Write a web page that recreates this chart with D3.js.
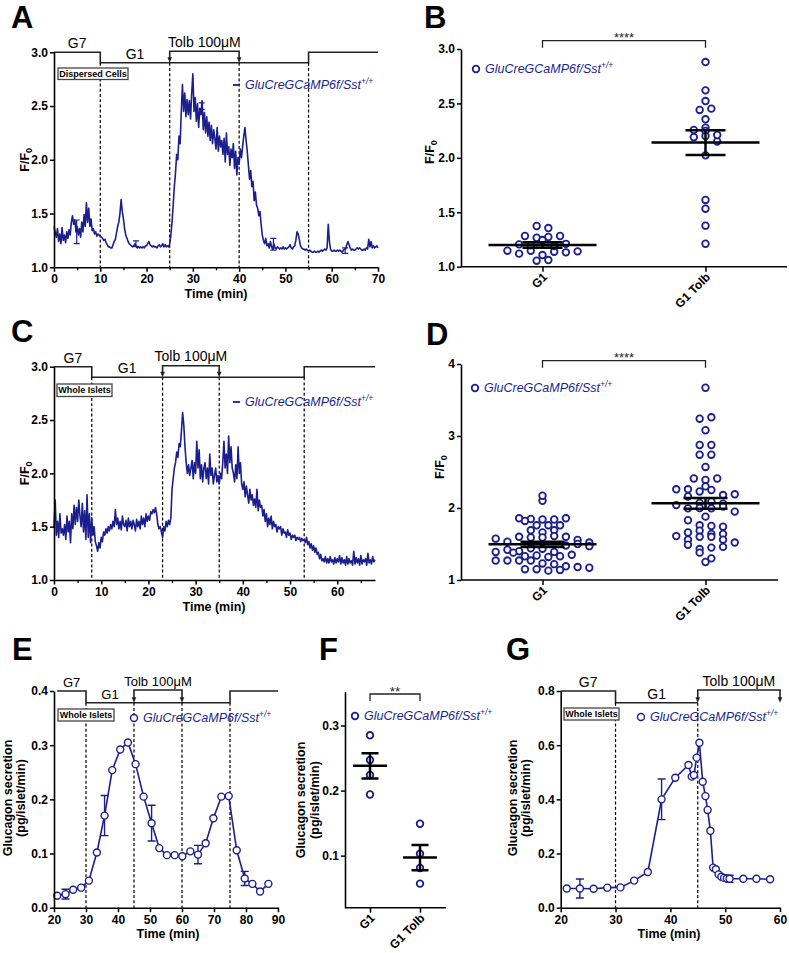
<!DOCTYPE html>
<html><head><meta charset="utf-8">
<script src="https://cdn.jsdelivr.net/npm/d3@7"></script>
<style>
body{margin:0;background:#fff}
text{font-family:Arial,"Liberation Sans",Helvetica,sans-serif}
</style></head><body>
<svg id="fig" width="789" height="953"></svg>
<script>
// ================= DATA =================
const LEGEND_NAME = "GluCreGCaMP6f/Sst";
const LEGEND_SUP = "+/+";

// Panel A: F/F0 trace, dispersed cells (one value every 0.25 min, 0..70 min)
const aStart = 0, aStep = 0.25;
const aValues = [
1.38,1.33,1.28,1.36, 1.24,1.31,1.22,1.37, 1.25,1.30,1.23,1.33, 1.27,1.35,1.30,1.42,
1.48,1.40,1.44,1.33, 1.38,1.30,1.36,1.28, 1.42,1.33,1.49,1.38, 1.60,1.42,1.55,1.38,
1.45,1.34,1.36,1.31, 1.33,1.29,1.31,1.30, 1.29,1.28,1.27,1.25, 1.26,1.23,1.21,1.19,
1.19,1.18,1.18,1.21, 1.24,1.26,1.32,1.38, 1.42,1.50,1.63,1.52, 1.45,1.36,1.30,1.27,
1.24,1.22,1.21,1.20, 1.19,1.20,1.22,1.19, 1.18,1.19,1.18,1.19, 1.18,1.19,1.18,1.20,
1.20,1.22,1.24,1.21, 1.20,1.19,1.20,1.19, 1.19,1.18,1.20,1.21, 1.19,1.20,1.22,1.19,
1.21,1.19,1.20,1.19, 1.22,1.30,1.42,1.58, 1.75,1.88,2.05,2.00, 2.22,2.15,2.45,2.70,
2.45,2.62,2.40,2.56, 2.42,2.55,2.38,2.62, 2.80,2.45,2.58,2.36, 2.52,2.30,2.48,2.42,
2.55,2.28,2.44,2.25, 2.40,2.22,2.35,2.18, 2.32,2.15,2.28,2.20, 2.10,2.30,2.08,2.22,
2.12,2.18,2.05,2.20, 1.98,2.25,2.05,2.12, 1.95,2.10,2.02,2.15, 1.92,2.08,1.86,2.02,
1.96,2.10,2.02,2.12, 2.22,2.30,2.18,2.08, 1.95,1.82,1.90,1.75, 1.80,1.62,1.70,1.58,
1.55,1.48,1.52,1.40, 1.30,1.25,1.22,1.27, 1.20,1.22,1.18,1.24, 1.19,1.17,1.22,1.18,
1.17,1.19,1.18,1.17, 1.18,1.17,1.19,1.17, 1.18,1.17,1.18,1.19, 1.21,1.18,1.17,1.19,
1.20,1.25,1.33,1.31, 1.26,1.20,1.18,1.17, 1.17,1.16,1.17,1.16, 1.15,1.16,1.15,1.14,
1.14,1.15,1.14,1.14, 1.15,1.14,1.15,1.16, 1.15,1.16,1.17,1.16, 1.18,1.40,1.24,1.17,
1.15,1.15,1.16,1.15, 1.15,1.16,1.15,1.16, 1.15,1.14,1.16,1.17, 1.17,1.21,1.24,1.21,
1.18,1.16,1.17,1.16, 1.16,1.17,1.18,1.17, 1.18,1.17,1.16,1.16, 1.17,1.16,1.18,1.17,
1.26,1.19,1.24,1.18, 1.20,1.18,1.19,1.20, 1.18];
const aErrT = [4.9, 17.7, 31.9, 47.4, 62.9];
const aErrV = [1.33, 1.22, 2.50, 1.215, 1.155];
const aErrE = [0.11, 0.025, 0.03, 0.055, 0.025];

// Panel C: F/F0 trace, whole islets (every 0.25 min, 0..68 min)
const cStart = 0, cStep = 0.25;
const cValues = [
1.50,1.75,1.42,1.55, 1.40,1.62,1.44,1.48, 1.42,1.52,1.38,1.60, 1.45,1.55,1.35,1.62,
1.48,1.70,1.52,1.68, 1.55,1.75,1.60,1.50, 1.72,1.45,1.65,1.38, 1.80,1.40,1.62,1.35,
1.58,1.42,1.50,1.36, 1.32,1.27,1.35,1.30, 1.40,1.36,1.45,1.42, 1.48,1.44,1.50,1.46,
1.52,1.48,1.55,1.50, 1.66,1.52,1.58,1.48, 1.55,1.47,1.60,1.52, 1.50,1.56,1.46,1.58,
1.50,1.55,1.48,1.56, 1.52,1.46,1.57,1.50, 1.55,1.48,1.60,1.52, 1.58,1.50,1.62,1.55,
1.60,1.56,1.64,1.62, 1.66,1.63,1.68,1.62, 1.52,1.48,1.50,1.45, 1.40,1.50,1.46,1.55,
1.50,1.56,1.52,1.58, 1.85,1.95,2.05,2.10, 2.20,2.15,2.28,2.25, 2.40,2.57,2.45,2.25,
2.10,2.00,2.08,1.98, 2.05,2.12,1.95,2.10, 2.00,2.30,2.05,2.22, 1.95,2.08,1.92,2.05,
2.10,1.95,2.05,1.90, 2.18,1.98,2.05,1.90, 1.98,2.05,1.92,1.98, 1.90,2.00,1.95,2.10,
2.30,2.05,2.18,2.00, 2.35,2.10,2.25,2.05, 2.00,1.92,2.08,1.95, 2.25,2.00,2.10,1.90,
1.85,1.92,1.78,1.88, 1.80,1.72,1.85,1.75, 1.80,1.70,1.76,1.68, 1.85,1.65,1.75,1.68,
1.70,1.60,1.66,1.55, 1.62,1.50,1.58,1.52, 1.60,1.48,1.55,1.50, 1.52,1.45,1.50,1.48,
1.50,1.42,1.48,1.44, 1.45,1.40,1.47,1.42, 1.44,1.38,1.42,1.40, 1.42,1.37,1.40,1.38,
1.40,1.36,1.39,1.37, 1.38,1.35,1.40,1.33, 1.36,1.30,1.34,1.28, 1.32,1.26,1.30,1.24,
1.26,1.20,1.24,1.18, 1.20,1.17,1.22,1.16, 1.20,1.16,1.22,1.17, 1.19,1.15,1.21,1.16,
1.20,1.17,1.23,1.15, 1.21,1.16,1.19,1.14, 1.22,1.15,1.20,1.16, 1.18,1.14,1.27,1.15,
1.21,1.16,1.20,1.14, 1.23,1.15,1.19,1.17, 1.20,1.14,1.25,1.16, 1.19,1.15,1.22,1.17,
1.19];

// Panel B: dispersed cells, F/F0 per cell
const scatterCats = ["G1", "G1 Tolb"];
const bG1 = [1.147,1.282,1.205,1.12,1.266,1.055,1.147,1.374,1.273,1.196,1.107,1.355,1.245,1.138,1.061,1.282,1.132,1.141,1.19,1.21];
const bTolb = [2.88,2.62,2.522,2.44,2.452,2.354,2.256,2.277,2.247,2.19,2.20,2.15,2.023,1.613,1.533,1.377,1.211,2.21];
const bMean = [1.20, 2.14];
const bSem = [0.025, 0.113];

// Panel D: whole islets, F/F0 per cell
const dG1 = [2.10,2.17,1.857,1.847,1.82,1.84,1.84,1.857,1.76,1.76,1.76,1.69,1.66,1.69,1.574,1.532,1.60,1.59,1.59,1.61,1.60,1.556,1.52,1.39,1.42,1.40,1.44,1.38,1.435,1.39,1.33,1.34,1.32,1.33,1.35,1.27,1.27,1.27,1.27,1.23,1.22,1.19,1.18,1.17,1.15,1.15,1.13,1.14,1.48,1.50,1.47];
const dTolb = [3.67,3.24,3.26,3.08,2.875,2.875,2.74,2.74,2.57,2.41,2.39,2.41,2.26,2.26,2.23,2.30,2.25,2.18,2.19,2.16,2.07,2.09,2.06,2.04,1.995,2.0,1.995,2.02,1.95,1.88,1.83,1.76,1.75,1.74,1.66,1.685,1.61,1.56,1.64,1.64,1.60,1.60,1.56,1.52,1.49,1.43,1.45,1.46,1.38,1.30,1.25];
const dMean = [1.495, 2.065];
const dSem = [0.035, 0.075];

// Panel E: glucagon secretion time course
const eTime = [21.0,23.6,26.0,28.5,30.9,33.4,35.8,38.2,40.7,43.1,45.5,48.0,50.5,52.9,55.3,57.7,60.1,62.6,65.0,67.4,69.8,72.3,74.6,77.1,79.6,82.0,84.4,87.0];
const eValues = [0.022,0.025,0.033,0.037,0.050,0.102,0.170,0.254,0.292,0.305,0.265,0.205,0.156,0.110,0.097,0.097,0.095,0.104,0.098,0.119,0.165,0.205,0.206,0.106,0.054,0.044,0.030,0.044];
const eErr = [0,0.009,0,0,0,0,0.037,0,0,0,0,0,0.033,0,0,0,0,0,0.017,0,0,0,0,0,0.013,0,0,0];

// Panel F: glucagon secretion per condition
const fG1 = [0.285,0.247,0.224,0.194];
const fTolb = [0.149,0.103,0.081,0.057];
const fMean = [0.238, 0.097];
const fSem = [0.0195, 0.0195];

// Panel G: glucagon secretion time course
const gTime = [21.1,23.5,26.0,28.5,30.9,33.4,35.9,38.4,40.9,43.3,43.9,44.3,44.8,45.3,45.9,46.4,46.8,47.3,47.8,48.3,48.8,49.3,49.8,50.3,50.8,53.3,55.7,58.2];
const gValues = [0.071,0.071,0.070,0.074,0.075,0.100,0.132,0.400,0.480,0.527,0.484,0.490,0.554,0.609,0.465,0.412,0.361,0.284,0.148,0.142,0.123,0.114,0.110,0.108,0.107,0.107,0.107,0.105];
const gErr = [0,0.035,0,0,0,0,0,0.075,0,0,0,0,0,0,0,0,0,0,0,0,0,0,0,0,0.013,0,0,0];

// Stimulation protocols: change times, level (1 = G7, 0 = G1), Tolb window
const aStimT = [0,10,55,70], aStimL = [1,0,1], aTolb = [25,40], aDash = [10,25,40,55];
const cStimT = [0,8,53,68],  cStimL = [1,0,1], cTolb = [23,35], cDash = [8,23,35,53];
const eStimT = [21,30,75,90], eStimL = [1,0,1], eTolb = [45,60], eDash = [30,45,60,75];
const gStimT = [20,30,45],   gStimL = [1,0],   gTolb = [45,60], gDash = [30,45];

// Tick values
const aXTicks = [0,10,20,30,40,50,60,70], aXMinor = [5,15,25,35,45,55,65];
const cXTicks = [0,10,20,30,40,50,60],   cXMinor = [5,15,25,35,45,55,65];
const ffTicks = [1.0,1.5,2.0,2.5,3.0];
const dYTicks = [1,2,3,4];
const eXTicks = [20,30,40,50,60,70,80,90], eYTicks = [0,0.1,0.2,0.3,0.4];
const fYTicks = [0.1,0.2,0.3];
const gXTicks = [20,30,40,50,60], gYTicks = [0,0.2,0.4,0.6,0.8];

// ================= DRAWING =================
const BLUE = "#1b1f8e";
const svg = d3.select("#fig");

function styleAxis(a, fs){
  a.select(".domain").attr("stroke","#000").attr("stroke-width",1.6);
  a.selectAll(".tick line").attr("stroke","#000").attr("stroke-width",1.5);
  a.selectAll(".tick text").attr("font-size",fs||12).attr("font-weight","bold").attr("fill","#000")
    .attr("font-family","Arial, 'Liberation Sans', sans-serif");
}
function xAxis(g, x, yPos, ticks, minor, fmt){
  if (minor) {
    g.append("g").attr("transform",`translate(0,${yPos})`)
      .call(d3.axisBottom(x).tickValues(minor).tickSize(3).tickSizeOuter(0).tickFormat(""))
      .call(a=>{a.select(".domain").remove(); a.selectAll("line").attr("stroke","#000").attr("stroke-width",1.3);});
  }
  const a = g.append("g").attr("transform",`translate(0,${yPos})`)
    .call(d3.axisBottom(x).tickValues(ticks).tickSize(4.5).tickSizeOuter(0).tickPadding(3).tickFormat(fmt||d3.format("d")));
  styleAxis(a);
  return a;
}
function yAxis(g, y, xPos, ticks, fmt){
  const a = g.append("g").attr("transform",`translate(${xPos},0)`)
    .call(d3.axisLeft(y).tickValues(ticks).tickSize(4).tickSizeOuter(0).tickPadding(2).tickFormat(fmt));
  styleAxis(a);
  return a;
}
function letter(t, x, y){
  svg.append("text").attr("x",x).attr("y",y).attr("font-size",31).attr("font-weight","bold").text(t);
}
function xTitle(g, x, y){
  g.append("text").attr("x",x).attr("y",y).attr("text-anchor","middle").attr("font-size",12.5).attr("font-weight","bold").text("Time (min)");
}
function yTitleFF(g, x, yc){
  const t = g.append("text").attr("transform",`translate(${x},${yc}) rotate(-90)`).attr("text-anchor","middle")
    .attr("font-size",12.5).attr("font-weight","bold");
  t.append("tspan").text("F/F");
  t.append("tspan").attr("font-size",9).attr("dy",3).text("0");
}
function yTitleGluc(g, x1, x2, yc){
  [["Glucagon secretion",x1],["(pg/islet/min)",x2]].forEach(([s,x])=>{
    g.append("text").attr("transform",`translate(${x},${yc}) rotate(-90)`).attr("text-anchor","middle")
      .attr("font-size",12.5).attr("font-weight","bold").text(s);
  });
}
function legend(g, kind, cx, cy, tx, fs){
  if (kind==="line") g.append("line").attr("x1",cx-3.5).attr("x2",cx+3.5).attr("y1",cy).attr("y2",cy)
      .attr("stroke",BLUE).attr("stroke-width",1.8);
  else g.append("circle").attr("cx",cx).attr("cy",cy).attr("r",3.3).attr("fill","#fff")
      .attr("stroke",BLUE).attr("stroke-width",1.8);
  const t = g.append("text").attr("x",tx).attr("y",cy+4.4).attr("fill",BLUE).attr("font-style","italic").attr("font-size",fs);
  t.append("tspan").text(LEGEND_NAME);
  t.append("tspan").attr("font-size",fs*0.68).attr("dy",-5.5).text(LEGEND_SUP);
}
function box(g, x, y, w, h, label){
  g.append("rect").attr("x",x).attr("y",y).attr("width",w).attr("height",h).attr("fill","#fff")
    .attr("stroke","#444").attr("stroke-width",1.3);
  g.append("text").attr("x",x+w/2).attr("y",y+h/2+3.2).attr("text-anchor","middle").attr("font-size",9)
    .attr("font-weight","bold").text(label);
}
function stim(g, x, s){
  const lv = l => l ? s.hi : s.lo;
  const pts = s.t.map((t,i)=>[x(t), lv(s.l[Math.min(i, s.l.length-1)])]);
  g.append("path").attr("d", d3.line().curve(d3.curveStepAfter)(pts)).attr("fill","none")
    .attr("stroke","#222").attr("stroke-width",1.6);
  const xa = x(s.tolb[0]), xb = x(s.tolb[1]), top = s.hi - 1;
  g.append("path").attr("d",`M${xa},${s.lo-4}V${top}H${xb}V${s.lo-4}`).attr("fill","none")
    .attr("stroke","#222").attr("stroke-width",1.6);
  [xa,xb].forEach(xx=>g.append("path").attr("d",`M${xx-2.3},${s.lo-5.5}L${xx+2.3},${s.lo-5.5}L${xx},${s.lo}Z`).attr("fill","#222"));
  const fs = s.fs;
  g.append("text").attr("x",x((s.t[0]+s.t[1])/2)).attr("y",s.hi-4).attr("text-anchor","middle").attr("font-size",fs).text("G7");
  g.append("text").attr("x",x((s.t[1]+s.tolb[0])/2)).attr("y",s.lo-4).attr("text-anchor","middle").attr("font-size",fs).text("G1");
  g.append("text").attr("x",x((s.tolb[0]+s.tolb[1])/2)).attr("y",s.hi-5.5).attr("text-anchor","middle").attr("font-size",fs).text("Tolb 100\u03BCM");
}
function dashes(g, x, ts, y0, y1){
  g.selectAll(null).data(ts).join("line").attr("x1",d=>x(d)).attr("x2",d=>x(d)).attr("y1",y0).attr("y2",y1)
    .attr("stroke","#000").attr("stroke-width",1.2).attr("stroke-dasharray","3,2.2");
}

// ---- Trace panels (A, C) ----
function tracePanel(o){
  const g = svg.append("g");
  const x = d3.scaleLinear().domain(o.xDomain).range([o.x0,o.x1]);
  const y = d3.scaleLinear().domain([1,3]).range([o.y1,o.y0]);
  stim(g, x, {t:o.stimT, l:o.stimL, tolb:o.tolb, hi:o.y0, lo:o.y0+10.5, fs:14});
  dashes(g, x, o.dash, o.y0+10.5, o.y1);
  const line = d3.line().x((d,i)=>x(o.start + i*o.step)).y(d=>y(d));
  g.append("path").datum(o.values).attr("d",line).attr("fill","none").attr("stroke",BLUE)
    .attr("stroke-width",1.6).attr("stroke-linejoin","round");
  if (o.errT) {
    o.errT.forEach((t,i)=>{
      const xx = x(t), ya = y(o.errV[i]-o.errE[i]), yb = y(o.errV[i]+o.errE[i]);
      g.append("path").attr("d",`M${xx},${ya}V${yb}M${xx-3},${ya}H${xx+3}M${xx-3},${yb}H${xx+3}`)
        .attr("stroke",BLUE).attr("stroke-width",1.2).attr("fill","none");
    });
  }
  xAxis(g, x, o.y1, o.xTicks, o.xMinor);
  yAxis(g, y, o.x0, ffTicks, d3.format(".1f"));
  xTitle(g, o.xTitleX, o.xTitleY);
  yTitleFF(g, 29, (o.y0+o.y1)/2);
  legend(g, "line", 236.5, o.legY, 245, 12.5);
  box(g, o.box[0], o.box[1], o.box[2], o.box[3], o.boxLabel);
}

tracePanel({xDomain:[0,70], x0:54, x1:378, y0:52.3, y1:267.3, start:aStart, step:aStep, values:aValues,
  stimT:aStimT, stimL:aStimL, tolb:aTolb, dash:aDash, xTicks:aXTicks, xMinor:aXMinor,
  errT:aErrT, errV:aErrV, errE:aErrE,
  xTitleX:216, xTitleY:297.5, legY:85, box:[58,68,70,11.5], boxLabel:"Dispersed Cells"});
tracePanel({xDomain:[0,68], x0:54, x1:375, y0:366.7, y1:580, start:cStart, step:cStep, values:cValues,
  stimT:cStimT, stimL:cStimL, tolb:cTolb, dash:cDash, xTicks:cXTicks, xMinor:cXMinor,
  xTitleX:214, xTitleY:610.5, legY:402, box:[57,384,55,12.5], boxLabel:"Whole Islets"});

// ---- Scatter panels (B, D, F) ----
function swarm(py, spacing, binH){
  const bins = d3.group(py.map((p,i)=>({p,i})), d=>Math.floor(d.p/binH));
  const off = new Array(py.length).fill(0);
  for (const [,arr] of bins) {
    const n = arr.length;
    arr.forEach((d,k)=>{ off[d.i] = (k-(n-1)/2)*spacing; });
  }
  return off;
}
function scatterPanel(o){
  const g = svg.append("g");
  const x = d3.scalePoint().domain(scatterCats).range([o.x0,o.xr]).padding(0.5);
  const y = d3.scaleLinear().domain(o.yDomain).range([o.y1,o.y0]);
  o.groups.forEach((vals,gi)=>{
    const cx = x(scatterCats[gi]);
    const py = vals.map(v=>y(v));
    const off = swarm(py, o.spacing, o.binH);
    g.selectAll(null).data(vals).join("circle").attr("cx",(d,i)=>cx+off[i]).attr("cy",d=>y(d)).attr("r",3.3)
      .attr("fill","#fff").attr("stroke",BLUE).attr("stroke-width",1.8);
  });
  scatterCats.forEach((c,gi)=>{
    const cx = x(c), m = o.mean[gi], s = o.sem[gi];
    g.append("path").attr("d",`M${cx-o.mw},${y(m)}H${cx+o.mw}M${cx},${y(m-s)}V${y(m+s)}M${cx-o.cw},${y(m-s)}H${cx+o.cw}M${cx-o.cw},${y(m+s)}H${cx+o.cw}`)
      .attr("stroke","#000").attr("stroke-width",2.5).attr("fill","none");
  });
  // axes
  const xa = g.append("g").attr("transform",`translate(0,${o.y1})`)
    .call(d3.axisBottom(x).tickSize(5).tickSizeOuter(0));
  styleAxis(xa);
  xa.select(".domain").attr("d",`M${o.x0},0H${o.xEnd}`);
  xa.selectAll(".tick text").attr("y",0).attr("dy",0).attr("text-anchor","end")
    .attr("transform","translate(5,11) rotate(-45)");
  yAxis(g, y, o.x0, o.yTicks, o.yFmt);
  // significance
  const xa1 = x(scatterCats[0]), xb1 = x(scatterCats[1]);
  g.append("path").attr("d",`M${xa1},${o.sigY+7}V${o.sigY}H${xb1}V${o.sigY+7}`).attr("fill","none")
    .attr("stroke","#222").attr("stroke-width",1.3);
  g.append("text").attr("x",(xa1+xb1)/2).attr("y",o.sigY+o.starDy).attr("text-anchor","middle")
    .attr("font-size",o.starFs).attr("fill","#222").text(o.stars);
  legend(g, "circle", o.legX, o.legY, o.legX+9, o.legFs);
  return g;
}
scatterPanel({x0:461, xr:787, xEnd:787, y0:49, y1:266.7, yDomain:[1,3], groups:[bG1,bTolb], mean:bMean, sem:bSem,
  spacing:11.7, binH:8, mw:54, cw:20, yTicks:ffTicks, yFmt:d3.format(".1f"), sigY:40.7, stars:"****",
  starDy:1.5, starFs:13, legX:476, legY:69, legFs:12.5});
scatterPanel({x0:461, xr:787, xEnd:778, y0:364, y1:580, yDomain:[1,4], groups:[dG1,dTolb], mean:dMean, sem:dSem,
  spacing:11.7, binH:8, mw:54, cw:22, yTicks:dYTicks, yFmt:d3.format("d"), sigY:360.7, stars:"****",
  starDy:1.5, starFs:13, legX:475, legY:388, legFs:12.5});
scatterPanel({x0:345, xr:445, xEnd:446, y0:691.7, y1:907.7, yDomain:[0.02,0.352], groups:[fG1,fTolb], mean:fMean, sem:fSem,
  spacing:9, binH:8, mw:17, cw:8.5, yTicks:fYTicks, yFmt:d3.format(".1f"), sigY:694, stars:"**",
  starDy:2, starFs:13.5, legX:355, legY:716, legFs:12.5});

// ---- Time-course panels (E, G) ----
function timePanel(o){
  const g = svg.append("g");
  const x = d3.scaleLinear().domain(o.xDomain).range([o.x0,o.x1]);
  const y = d3.scaleLinear().domain(o.yDomain).range([o.y1,o.y0]);
  stim(g, x, {t:o.stimT, l:o.stimL, tolb:o.tolb, hi:o.y0, lo:o.y0+11.7, fs:o.stimFs});
  dashes(g, x, o.dash, o.y0+11.7, o.y1);
  const pts = o.t.map((t,i)=>({t, v:o.v[i], e:o.e[i]}));
  g.append("path").datum(pts).attr("d", d3.line().x(d=>x(d.t)).y(d=>y(d.v))).attr("fill","none")
    .attr("stroke",BLUE).attr("stroke-width",1.6);
  pts.filter(d=>d.e>0).forEach(d=>{
    const xx = x(d.t), ya = y(d.v-d.e), yb = y(d.v+d.e);
    g.append("path").attr("d",`M${xx},${ya}V${yb}M${xx-4},${ya}H${xx+4}M${xx-4},${yb}H${xx+4}`)
      .attr("stroke",BLUE).attr("stroke-width",1.4).attr("fill","none");
  });
  g.selectAll(null).data(pts).join("circle").attr("cx",d=>x(d.t)).attr("cy",d=>y(d.v)).attr("r",3.5)
    .attr("fill","#fff").attr("stroke",BLUE).attr("stroke-width",1.4);
  xAxis(g, x, o.y1, o.xTicks, null);
  yAxis(g, y, o.x0, o.yTicks, d3.format(".1f"));
  xTitle(g, o.xTitleX, 937.5);
  yTitleGluc(g, o.yt1, o.yt2, 798);
  box(g, o.box[0], o.box[1], o.box[2], o.box[3], "Whole Islets");
  g.append("circle").attr("cx",o.legX).attr("cy",o.legY).attr("r",3.5).attr("fill","#fff").attr("stroke",BLUE).attr("stroke-width",1.4);
  const t = g.append("text").attr("x",o.legX+9).attr("y",o.legY+4.4).attr("fill",BLUE).attr("font-style","italic").attr("font-size",12.5);
  t.append("tspan").text(LEGEND_NAME);
  t.append("tspan").attr("font-size",8.5).attr("dy",-5.5).text(LEGEND_SUP);
}
timePanel({xDomain:[20,90], x0:54, x1:278, y0:691, y1:907.7, yDomain:[0,0.4], t:eTime, v:eValues, e:eErr,
  stimT:eStimT, stimL:eStimL, tolb:eTolb, dash:eDash, stimFs:13, xTicks:eXTicks, yTicks:eYTicks,
  xTitleX:168, yt1:12, yt2:25, box:[58,709,56,12], legX:134, legY:718});
timePanel({xDomain:[20,60], x0:560.7, x1:780, y0:691, y1:907.7, yDomain:[0,0.8], t:gTime, v:gValues, e:gErr,
  stimT:gStimT, stimL:gStimL, tolb:gTolb, dash:gDash, stimFs:14, xTicks:gXTicks, yTicks:gYTicks,
  xTitleX:669, yt1:517, yt2:530, box:[564,708,55,12], legX:641, legY:717});

yTitleFF(svg, 433.5, 152);
yTitleFF(svg, 443.5, 467);
yTitleGluc(svg, 305, 318.5, 800);

// Panel letters
letter("A",11,28); letter("B",424,28); letter("C",11,342); letter("D",426,345);
letter("E",12,660); letter("F",319,660); letter("G",506,660);
</script>
</body></html>
